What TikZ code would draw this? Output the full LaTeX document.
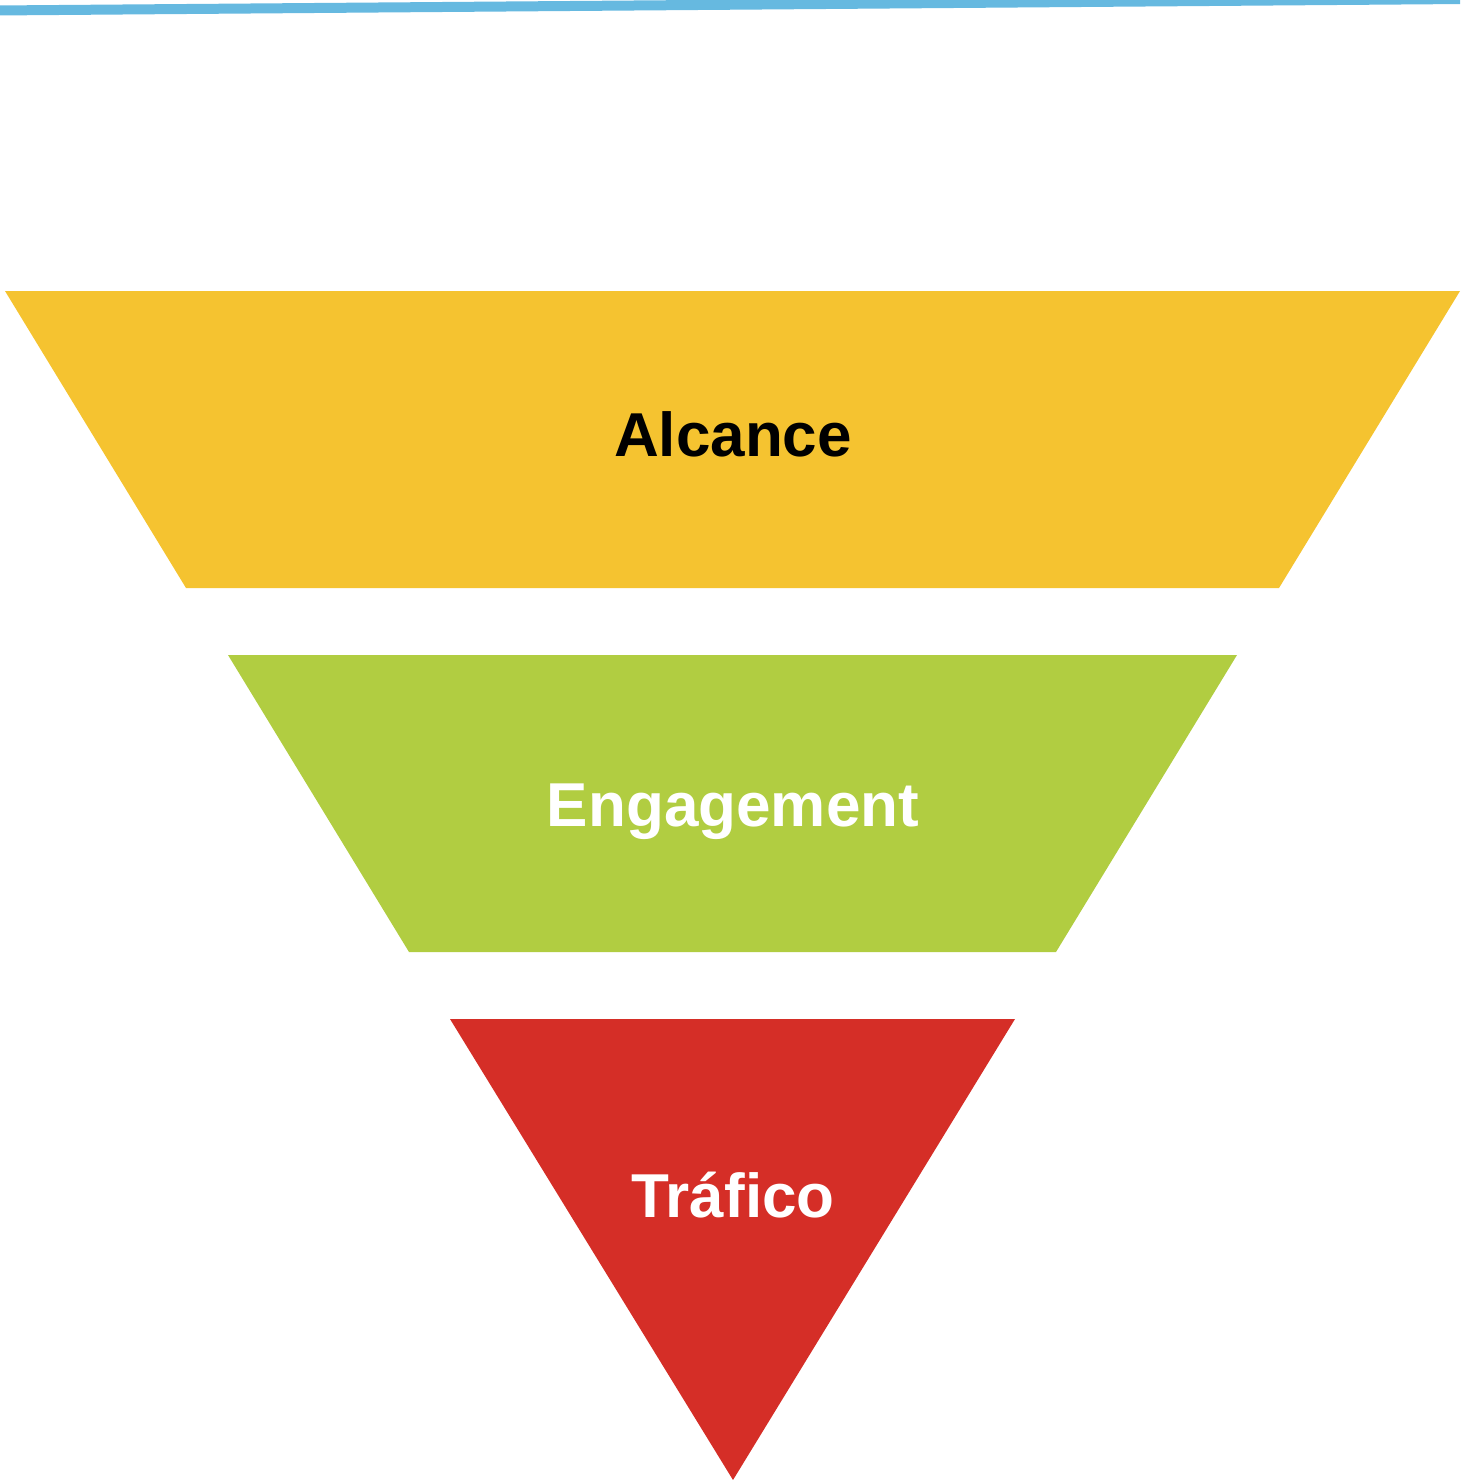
\documentclass[tikz,border=0pt]{standalone}
\usepackage{fontspec}
\setmainfont{Liberation Sans}
\definecolor{cyellow}{HTML}{F5C330}
\definecolor{cgreen}{HTML}{B1CD41}
\definecolor{cred}{HTML}{D52E27}
\definecolor{cblue}{HTML}{66B9E0}
\begin{document}
\begin{tikzpicture}[x=1pt,y=-1pt,
  lbl/.style={anchor=base,font=\fontsize{62}{62}\selectfont\bfseries,inner sep=0pt}]
\useasboundingbox (0,0) rectangle (1460,1480);
\begin{scope}
\clip (0,0) rectangle (1460,1480);
\draw[cblue,line width=10pt] (-5,10.5) -- (1465,-1);
\end{scope}
\fill[cyellow] (5,291) -- (1460,291) -- (1279,588) -- (186,588) -- cycle;
\fill[cgreen] (228,655) -- (1237,655) -- (1056,952) -- (409,952) -- cycle;
\fill[cred] (450,1019) -- (1015,1019) -- (733,1480) -- cycle;
\node[lbl,text=black] (alc) at (733,456) {Alcance};
\node[lbl,text=white] (eng) at (733,826) {Engagement};
\node[lbl,text=white] (tra) at (733,1217) {Tráfico};
\end{tikzpicture}
\end{document}
